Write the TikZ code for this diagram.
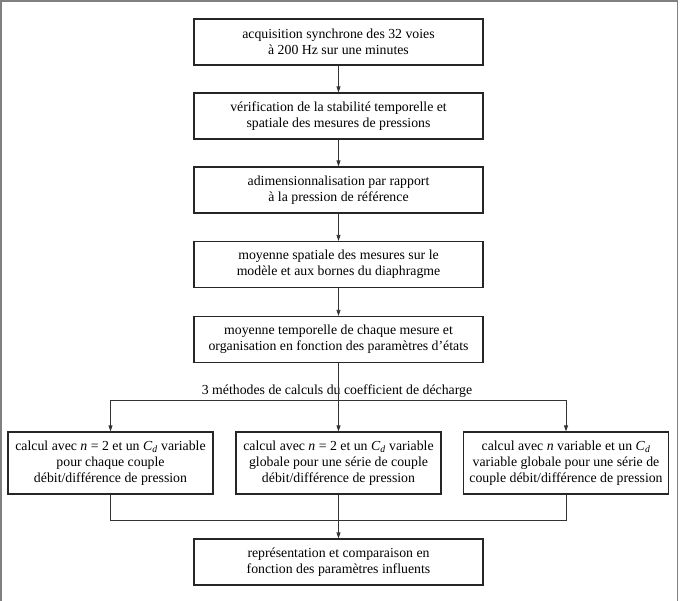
\documentclass[tikz,border=0pt]{standalone}
\usepackage{fontspec}
\setmainfont{Liberation Serif}
\usetikzlibrary{arrows.meta}
\newcommand\coefd{\textit{C}\textsubscript{\textit{d}}}
\begin{document}
\begin{tikzpicture}[x=1pt,y=-1pt,
  stepbox/.style={draw=black!85, line width=1.2pt, minimum width=289pt,
    minimum height=46pt, inner sep=0pt, align=center,
    font=\fontsize{13.8}{16}\selectfont},
  methodbox/.style={stepbox, minimum width=205pt, minimum height=62pt},
  link/.style={draw=black!80, line width=0.8pt},
  arrow/.style={link, -{Triangle[length=6pt,width=4pt]}},
  caption/.style={inner sep=0pt, font=\fontsize{13.8}{16}\selectfont},
  frame/.style={draw=black!50, line width=1.5pt}]
\useasboundingbox (0,0) rectangle (682,601);
% outer frame
\draw[frame] (1,610) -- (1,1) -- (677.5,1) -- (677.5,610);

% processing chain
\node[stepbox] (b1) at (338.5,42)
  {acquisition synchrone des 32 voies\\à 200 Hz sur une minutes};
\node[stepbox] (b2) at (338.5,116)
  {vérification de la stabilité temporelle et\\spatiale des mesures de pressions};
\node[stepbox] (b3) at (338.5,190)
  {adimensionnalisation par rapport\\à la pression de référence};
\node[stepbox] (b4) at (338.5,264.5)
  {moyenne spatiale des mesures sur le\\modèle et aux bornes du diaphragme};
\node[stepbox] (b5) at (338.5,339.5)
  {moyenne temporelle de chaque mesure et\\organisation en fonction des paramètres d'états};

% the three discharge-coefficient methods
\node[caption] (lbl) at (337,391)
  {3 méthodes de calculs du coefficient de décharge};
\node[methodbox] (m1) at (110.5,463)
  {calcul avec \textit{n} = 2 et un \coefd{} variable\\pour chaque couple\\débit/différence de pression};
\node[methodbox] (m2) at (338.5,463)
  {calcul avec \textit{n} = 2 et un \coefd{} variable\\globale pour une série de couple\\débit/différence de pression};
\node[methodbox] (m3) at (566,463)
  {calcul avec \textit{n} variable et un \coefd\\variable globale pour une série de\\couple débit/différence de pression};

\node[stepbox] (b6) at (338.5,562)
  {représentation et comparaison en\\fonction des paramètres influents};

% connectors
\draw[arrow] (b1) -- (b2);
\draw[arrow] (b2) -- (b3);
\draw[arrow] (b3) -- (b4);
\draw[arrow] (b4) -- (b5);

\coordinate (split) at (338.5,400);
\coordinate (splitL) at (110.5,400);
\coordinate (splitR) at (566,400);
\draw[link] (b5) -- (split);
\draw[link] (splitL) -- (splitR);
\draw[arrow] (splitL) -- (m1);
\draw[arrow] (split) -- (m2);
\draw[arrow] (splitR) -- (m3);

\coordinate (join) at (338.5,520);
\draw[link] (m1.south) -- (m1.south |- join) -- (m3.south |- join) -- (m3.south);
\draw[link] (m2) -- (join);
\draw[arrow] (join) -- (b6);
\end{tikzpicture}
\end{document}
